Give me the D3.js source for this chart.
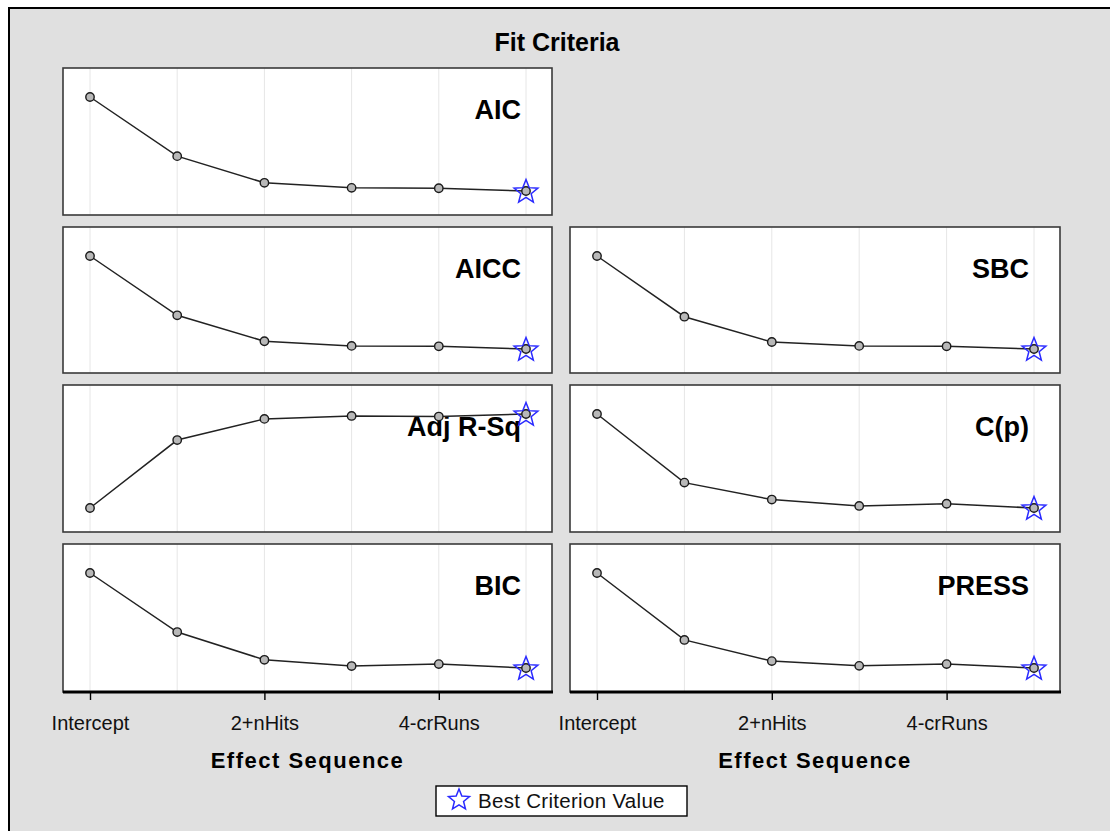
<!DOCTYPE html>
<html>
<head>
<meta charset="utf-8">
<script src="https://cdn.jsdelivr.net/npm/d3@7"></script>
<style>
  html, body { margin: 0; padding: 0; background: #ffffff; }
  svg { display: block; font-family: "Liberation Sans", Arial, sans-serif; }
</style>
</head>
<body>
<svg id="chart" width="1110" height="831"></svg>
<script>
// Effect sequence (steps of the selection) and which ones carry a tick label
const steps = ["Intercept", "1", "2+nHits", "3", "4-crRuns", "5"];
const labeledSteps = ["Intercept", "2+nHits", "4-crRuns"];

// Criterion values at each step
const aic    = [1250, 1099, 1031, 1018, 1017, 1010];
const aicc   = [1252, 1099, 1032, 1020, 1019, 1012];
const adjRsq = [0.000, 0.347, 0.455, 0.470, 0.467, 0.480];
const bic    = [1254, 1103, 1032, 1016, 1021, 1011];
const sbc    = [1256, 1100, 1035, 1025, 1024, 1017];
const cp     = [195.0, 56.0, 21.7, 8.8, 13.2, 4.6];
const press  = [53.0, 37.5, 32.6, 31.5, 31.9, 31.0];

// Step at which each criterion is optimal
const bestStep = "5";

const panels = [
  { name: "AIC",      values: aic,    col: 0, row: 0 },
  { name: "AICC",     values: aicc,   col: 0, row: 1 },
  { name: "Adj R-Sq", values: adjRsq, col: 0, row: 2 },
  { name: "BIC",      values: bic,    col: 0, row: 3 },
  { name: "SBC",      values: sbc,    col: 1, row: 1 },
  { name: "C(p)",     values: cp,     col: 1, row: 2 },
  { name: "PRESS",    values: press,  col: 1, row: 3 }
];

const svg = d3.select("#chart");

// frame
svg.append("rect").attr("x", 0).attr("y", 0).attr("width", 1110).attr("height", 831).attr("fill", "#ffffff");
svg.append("rect").attr("x", 9).attr("y", 8).attr("width", 1110).attr("height", 840)
  .attr("fill", "#e0e0e0").attr("stroke", "#000").attr("stroke-width", 2);

svg.append("text").attr("x", 557).attr("y", 51).attr("text-anchor", "middle")
  .attr("font-size", 25).attr("font-weight", "bold").attr("fill", "#000").text("Fit Criteria");

const colX = [[63, 552], [570, 1060]];
const rowY = [[68, 215], [227, 373], [385, 532], [544, 692]];

const starPath = (r, ri) => {
  const pts = [];
  for (let i = 0; i < 10; i++) {
    const a = -Math.PI / 2 + i * Math.PI / 5;
    const rr = i % 2 === 0 ? r : ri;
    pts.push([rr * Math.cos(a), rr * Math.sin(a)]);
  }
  return "M" + pts.map(p => p[0].toFixed(2) + "," + p[1].toFixed(2)).join("L") + "Z";
};

const xScales = colX.map(([a, b]) => d3.scalePoint().domain(steps).range([a + 27, b - 26]));

panels.forEach(p => {
  const [x0, x1] = colX[p.col];
  const [y0, y1] = rowY[p.row];
  const x = xScales[p.col];
  const y = d3.scaleLinear().domain(d3.extent(p.values)).range([y1 - 24, y0 + 29]);
  const g = svg.append("g");

  g.append("rect").attr("x", x0).attr("y", y0).attr("width", x1 - x0).attr("height", y1 - y0)
    .attr("fill", "#ffffff");

  g.selectAll("line.grid").data(steps).join("line").attr("class", "grid")
    .attr("x1", d => x(d)).attr("x2", d => x(d)).attr("y1", y0).attr("y2", y1)
    .attr("stroke", "#e6e6e6").attr("stroke-width", 1);

  g.append("text").attr("x", x1 - 31).attr("y", y0 + 51).attr("text-anchor", "end")
    .attr("font-size", 27).attr("font-weight", "bold").attr("fill", "#000").text(p.name);

  const pts = steps.map((s, i) => ({ s, v: p.values[i] }));
  g.append("path").datum(pts)
    .attr("d", d3.line().x(d => x(d.s)).y(d => y(d.v)))
    .attr("fill", "none").attr("stroke", "#222").attr("stroke-width", 1.5);

  g.selectAll("circle").data(pts).join("circle")
    .attr("cx", d => x(d.s)).attr("cy", d => y(d.v)).attr("r", 4.2)
    .attr("fill", "#b8b8b8").attr("stroke", "#1a1a1a").attr("stroke-width", 1.4);

  const best = pts.find(d => d.s === bestStep);
  g.append("path").attr("d", starPath(12.5, 5.4))
    .attr("transform", `translate(${x(best.s)},${y(best.v) + 1})`)
    .attr("fill", "none").attr("stroke", "#2a2aff").attr("stroke-width", 1.5);

  g.append("rect").attr("x", x0).attr("y", y0).attr("width", x1 - x0).attr("height", y1 - y0)
    .attr("fill", "none").attr("stroke", "#3a3a3a").attr("stroke-width", 1.6);

  if (p.row === 3) {
    const axis = d3.axisBottom(x).tickValues(labeledSteps).tickSize(8).tickPadding(6);
    const ag = g.append("g").attr("transform", `translate(0,${y1})`).call(axis);
    ag.select(".domain").remove();
    ag.append("line").attr("x1", x0).attr("x2", x1 + 1).attr("y1", 0).attr("y2", 0)
      .attr("stroke", "#000").attr("stroke-width", 3);
    ag.selectAll(".tick line").attr("stroke", "#000").attr("stroke-width", 1.4);
    ag.selectAll(".tick text").attr("font-size", 20).attr("fill", "#111").attr("dy", null)
      .attr("y", 38)
      .attr("font-family", "'Liberation Sans', Arial, sans-serif");
    g.append("text").attr("x", (x0 + x1) / 2).attr("y", y1 + 76).attr("text-anchor", "middle")
      .attr("font-size", 22).attr("font-weight", "bold").attr("fill", "#000")
      .attr("letter-spacing", 1.5).text("Effect Sequence");
  }
});

// legend
const lg = svg.append("g");
lg.append("rect").attr("x", 436).attr("y", 786).attr("width", 251).attr("height", 30)
  .attr("fill", "#ffffff").attr("stroke", "#000").attr("stroke-width", 1.4);
lg.append("path").attr("d", starPath(11, 4.8)).attr("transform", "translate(459,800)")
  .attr("fill", "none").attr("stroke", "#2a2aff").attr("stroke-width", 1.5);
lg.append("text").attr("x", 478).attr("y", 808).attr("font-size", 20.5).attr("fill", "#111")
  .attr("letter-spacing", 0.3).text("Best Criterion Value");
</script>
</body>
</html>
